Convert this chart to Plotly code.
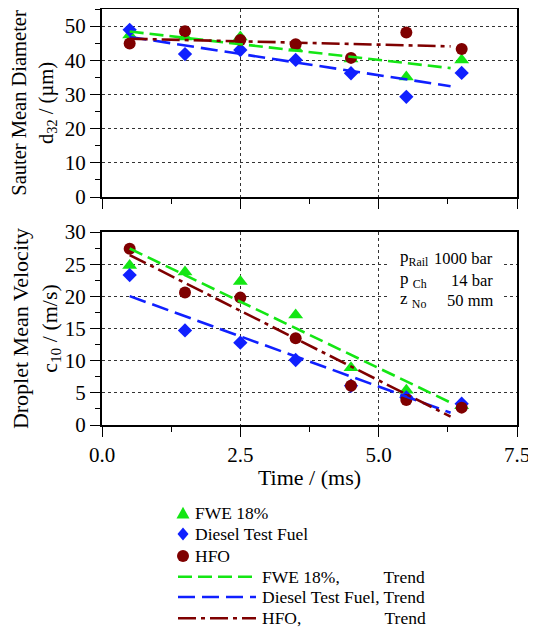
import numpy as np
import plotly.graph_objects as go

# ---------------- data ----------------
time_ms = [0.5, 1.5, 2.5, 3.5, 4.5, 5.5, 6.5]

d32_fwe = [47.4, 46.8, 46.8, 43.5, 40.4, 35.1, 40.1]
d32_diesel = [48.9, 41.8, 43.0, 40.1, 36.2, 29.3, 36.3]
d32_hfo = [44.9, 48.5, 45.9, 44.7, 40.7, 48.1, 43.3]

c10_fwe = [24.8, 23.8, 22.3, 17.1, 8.9, 5.4, 3.0]
c10_diesel = [23.3, 14.7, 12.8, 10.1, 6.1, 4.3, 3.3]
c10_hfo = [27.4, 20.6, 19.8, 13.5, 6.1, 3.9, 2.7]

trend_x = [0.5, 6.3]

series_names = ["FWE 18%", "Diesel Test Fuel", "HFO"]
trend_names = ["FWE 18%," + "\u00a0" * 10 + "Trend",
               "Diesel Test Fuel, Trend",
               "HFO," + "\u00a0" * 19 + "Trend"]

param_labels = ["p<sub>Rail</sub>", "p <sub>Ch</sub>", "z <sub>No</sub>"]
param_values = ["1000 bar", "14 bar", "50 mm"]

x_ticks = [0.0, 2.5, 5.0, 7.5]
x_ticklabels = ["0.0", "2.5", "5.0", "7.5"]

# ---------------- style ----------------
FONT = "Times New Roman, Liberation Serif, serif"
colors = ["#14e614", "#1020ff", "#7f0000"]
symbols = ["triangle-up", "diamond", "circle"]
msizes = [13, 11, 12]
dashes = ["14px,6px", "17px,7px", "18px,5px,4px,5px"]

W, H = 528, 621
ML, MR, MT, MB = 94, 19, 1, 204
PW = W - ML - MR
PH = H - MT - MB

fig = go.Figure()


def trend(xs, ys, xt):
    k, b = np.polyfit(xs, ys, 1)
    return [k * x + b for x in xt]


panels = [
    ("x", "y", [d32_fwe, d32_diesel, d32_hfo]),
    ("x2", "y2", [c10_fwe, c10_diesel, c10_hfo]),
]

for pi, (xa, ya, data) in enumerate(panels):
    for i, ys in enumerate(data):
        fig.add_trace(go.Scatter(
            x=time_ms, y=ys, mode="markers", xaxis=xa, yaxis=ya,
            name=series_names[i], showlegend=False,
            marker=dict(symbol=symbols[i], size=msizes[i], color=colors[i],
                        line=dict(width=0)),
        ))
    for i, ys in enumerate(data):
        fig.add_trace(go.Scatter(
            x=trend_x, y=trend(time_ms, ys, trend_x), mode="lines",
            xaxis=xa, yaxis=ya, name=trend_names[i], showlegend=False,
            line=dict(color=colors[i], width=2.6, dash=dashes[i]),
        ))

axis_common = dict(
    showline=True, linecolor="black", linewidth=2, mirror=True,
    ticks="outside", ticklen=10, tickwidth=1.2, tickcolor="black",
    showgrid=True, gridcolor="#333333", gridwidth=1, griddash="3px,3px",
    zeroline=False, ticklabeloverflow="allow", automargin=False,
    tickfont=dict(family=FONT, size=21, color="black"),
)
minor_common = dict(ticklen=5, ticks="outside", tickcolor="black",
                    tickwidth=1.2, showgrid=False)

fig.update_layout(
    template="none",
    width=W, height=H,
    margin=dict(l=ML, r=MR, t=MT, b=MB, autoexpand=False),
    paper_bgcolor="white", plot_bgcolor="white",
    font=dict(family=FONT, color="black"),
    showlegend=False,
    xaxis=dict(axis_common, domain=[0, 1], anchor="y", range=[0, 7.5],
               tickvals=x_ticks, showticklabels=False,
               minor=dict(minor_common, dtick=1.25, tick0=0)),
    yaxis=dict(axis_common, domain=[(PH - 188) / PH, 1], anchor="x",
               range=[0, 55], dtick=10, tick0=0,
               minor=dict(minor_common, dtick=5, tick0=0),
               title=dict(text="Sauter Mean Diameter<br>d<sub>32</sub> / (µm)",
                          font=dict(family=FONT, size=20.5), standoff=16)),
    xaxis2=dict(axis_common, domain=[0, 1], anchor="y2", range=[0, 7.5],
                tickvals=x_ticks, ticktext=x_ticklabels,
                minor=dict(minor_common, dtick=1.25, tick0=0),
                title=dict(text="Time / (ms)", font=dict(family=FONT, size=22),
                           standoff=3)),
    yaxis2=dict(axis_common, domain=[0, (PH - 223) / PH], anchor="x2",
                range=[0, 30], dtick=5, tick0=0,
                minor=dict(minor_common, dtick=2.5, tick0=0),
                title=dict(text="Droplet Mean Velocity<br>c<sub>10</sub> / (m/s)",
                           font=dict(family=FONT, size=22), standoff=16)),
)

# white box behind the parameter block
fig.add_shape(type="rect", xref="x2", yref="y2", x0=5.17, x1=7.25,
              y0=17.5, y1=27.9, fillcolor="white", line=dict(width=0),
              layer="between")

rows_y = [25.9, 22.5, 19.4]
for lab, val, yy in zip(param_labels, param_values, rows_y):
    fig.add_annotation(xref="x2", yref="y2", x=5.35, y=yy, text=lab,
                       showarrow=False, xanchor="left", yanchor="middle",
                       font=dict(family=FONT, size=17, color="black"))
    fig.add_annotation(xref="x2", yref="y2", x=7.10, y=yy, text=val,
                       showarrow=False, xanchor="right", yanchor="middle",
                       font=dict(family=FONT, size=16.5, color="black"))


# ---------------- legend (drawn below the plots) ----------------
def px_x(p):
    return (p - ML) / PW


def px_y(p):
    return (H - MB - p) / PH


LEG_FONT = dict(family=FONT, size=17.5, color="black")
marker_rows = [505.3, 526.0, 548.0]
marker_cx = 175.0
r = 6.5
marker_paths = [
    f"M0,{r} L{-r},{-r * 0.8} L{r},{-r * 0.8} Z",          # triangle-up
    f"M0,{r} L{r * 0.85},0 L0,{-r} L{-r * 0.85},0 Z",      # diamond
    None,                                                  # circle
]
for i in range(3):
    cy = marker_rows[i]
    common = dict(xref="paper", yref="paper", xsizemode="pixel",
                  ysizemode="pixel", xanchor=px_x(marker_cx), yanchor=px_y(cy),
                  fillcolor=colors[i], line=dict(width=0), layer="above")
    if marker_paths[i] is None:
        fig.add_shape(type="circle", x0=-6, x1=6, y0=-6, y1=6, **common)
    else:
        fig.add_shape(type="path", path=marker_paths[i], **common)
    fig.add_annotation(xref="paper", yref="paper", x=px_x(185), y=px_y(cy),
                       text=series_names[i], showarrow=False, xanchor="left",
                       yanchor="middle", font=LEG_FONT)

line_rows = [568.7, 589.0, 610.3]
for i in range(3):
    cy = line_rows[i]
    fig.add_shape(type="line", xref="paper", yref="paper",
                  x0=px_x(170), x1=px_x(248), y0=px_y(cy), y1=px_y(cy),
                  line=dict(color=colors[i], width=2.6, dash=dashes[i]))
    fig.add_annotation(xref="paper", yref="paper", x=px_x(252), y=px_y(cy),
                       text=trend_names[i], showarrow=False, xanchor="left",
                       yanchor="middle", font=LEG_FONT)

fig.write_html("out.html")
